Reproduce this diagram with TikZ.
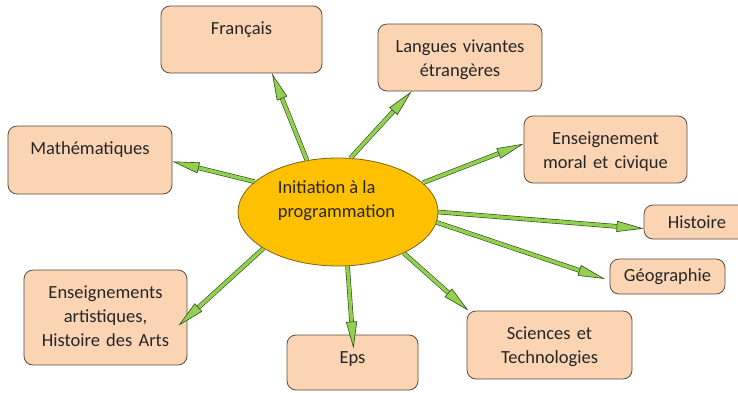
\documentclass[tikz,border=0pt]{standalone}
\usepackage{fontspec}
\setmainfont{Carlito}
\usetikzlibrary{arrows.meta,shapes.geometric}

\definecolor{peche}{HTML}{FBD4B4}
\definecolor{bordpeche}{HTML}{5B4A3D}
\definecolor{jaune}{HTML}{FFC000}
\definecolor{bordjaune}{HTML}{7A6220}
\definecolor{vert}{HTML}{92D050}
\definecolor{vertfonce}{HTML}{2E4A1A}
\definecolor{encre}{HTML}{262626}

\begin{document}
\begin{tikzpicture}[
  x=1pt, y=-1pt,
  font=\fontsize{18.5}{24}\selectfont,
  texte/.style={text=encre,inner sep=0pt},
  boite/.style={draw=bordpeche,line width=0.8pt,fill=peche,rounded corners=9pt,
                rectangle,inner sep=0pt},
  entete/.style={label={[texte,anchor=base,yshift=-29pt,text width=150pt,align=center]north:#1}},
  bulle/.style={ellipse,draw=bordjaune,line width=0.8pt,fill=jaune,inner sep=0pt,
                minimum width=200pt,minimum height=108pt},
  fleche/.style={draw=vertfonce,line width=0.6pt,double=vert,double distance=3.4pt,
                 -{Triangle[length=27pt,width=11pt,fill=vert,line width=0.6pt]}}
]
\useasboundingbox (0,0) rectangle (738,392);

% une matiere : #1 nom, #2 x, #3 y, #4 largeur, #5 hauteur, #6 texte
\newcommand{\matiere}[6]{
  \node[boite,minimum width=#4,minimum height=#5,entete={#6}] (#1) at (#2,#3) {};
}

% noeud central
\node[bulle,label={[texte,align=left,xshift=-1.5pt,yshift=11pt]center:Initiation à la\\programmation}]
  (centre) at (338,212) {};

% les matieres autour
\matiere{fr}{241.5}{39.5}{161pt}{67pt}{Français}
\matiere{lv}{460}{57.5}{164pt}{67pt}{Langues vivantes\\étrangères}
\matiere{ma}{90}{160}{164pt}{68pt}{Mathématiques}
\matiere{em}{605.5}{149.5}{163pt}{67pt}{Enseignement\\moral et civique}
\matiere{ar}{105.5}{317.5}{163pt}{95pt}{Enseignements\\artistiques,\\Histoire des Arts}
\matiere{ep}{352.5}{362.5}{131pt}{55pt}{Eps}
\matiere{sc}{549.5}{345}{165pt}{68pt}{Sciences et\\Technologies}
\node[boite,texte,draw=bordpeche,minimum width=106pt,minimum height=34pt] (hi) at (697,222) {Histoire};
\node[boite,texte,draw=bordpeche,minimum width=115pt,minimum height=35pt] (ge) at (667.5,276.5) {Géographie};

% fleches
\draw[fleche] (centre.121.6) -- (fr.-48);
\draw[fleche] (centre.77.5) -- (lv.-145.6);
\draw[fleche] (centre.19) -- (em.176);
\draw[fleche] (centre.-0.6) -- (hi.-173);
\draw[fleche,shorten >=5pt] (centre.-6.5) -- (ge.184);
\draw[fleche] (centre.-32) -- (sc.157);
\draw[fleche,shorten >=-14pt] (centre.-80.4) -- (ep.north);
\draw[fleche,shorten >=-12pt] (centre.-154.8) -- (ar.east);
\draw[fleche] (centre.160.6) -- (ma.-1.5);

\end{tikzpicture}
\end{document}
